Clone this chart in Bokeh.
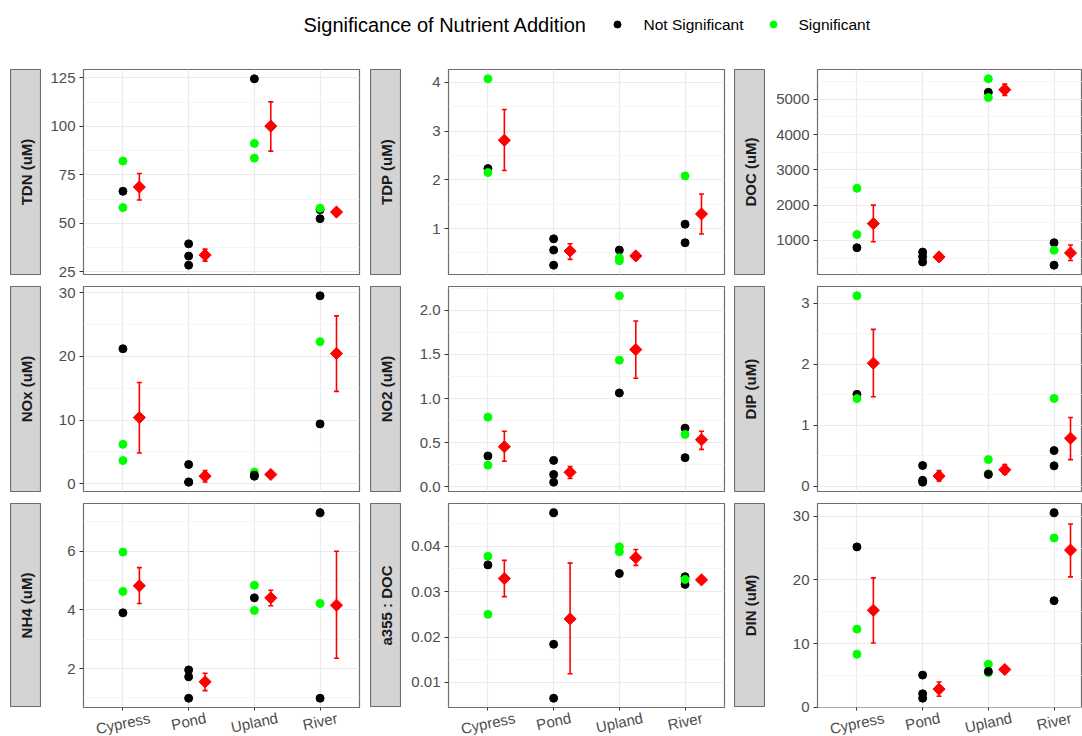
import math
from bokeh.plotting import figure
from bokeh.models import (ColumnDataSource, Range1d, FixedTicker, LinearAxis,
                          NumeralTickFormatter, Whisker, TeeHead, Label, Spacer,
                          CustomJSTickFormatter)
from bokeh.layouts import row, column
from bokeh.transform import dodge, factor_cmap
from bokeh.core.properties import value
from bokeh.embed import file_html
from bokeh.resources import INLINE

FONT = "Liberation Sans"

# ---------------- data ----------------
SITES = ["Cypress", "Pond", "Upland", "River"]
POINT_SITE = ["Cypress"] * 3 + ["Pond"] * 3 + ["Upland"] * 3 + ["River"] * 3
NS, SG = "Not Significant", "Significant"
SIG_LEVELS = [NS, SG]

TDN_VALS = [82.1, 66.5, 58.1, 39.4, 33.1, 28.4, 124.5, 91.2, 83.6, 57.0, 57.8, 52.4]
TDN_SIG = [SG, NS, SG, NS, NS, NS, NS, SG, SG, NS, SG, NS]
TDN_MEAN = [68.7, 33.6, 100.1, 55.8]
TDN_LO = [62.0, 30.5, 87.2, 54.2]
TDN_HI = [75.7, 36.7, 112.6, 57.4]

TDP_VALS = [4.07, 2.23, 2.15, 0.79, 0.56, 0.25, 0.56, 0.40, 0.34, 2.08, 1.09, 0.71]
TDP_SIG = [SG, NS, SG, NS, NS, NS, NS, SG, SG, SG, NS, NS]
TDP_MEAN = [2.81, 0.54, 0.44, 1.30]
TDP_LO = [2.19, 0.37, 0.37, 0.89]
TDP_HI = [3.44, 0.69, 0.51, 1.71]

DOC_VALS = [2477, 1168, 794, 670, 540, 390, 5579, 5196, 5047, 935, 720, 299]
DOC_SIG = [SG, SG, NS, NS, NS, NS, SG, NS, SG, NS, SG, NS]
DOC_MEAN = [1477, 533, 5271, 645]
DOC_LO = [963, 452, 5110, 430]
DOC_HI = [2000, 614, 5430, 869]

NOX_VALS = [21.2, 6.2, 3.65, 3.03, 0.26, 0.30, 1.85, 1.20, 1.35, 29.5, 22.3, 9.4]
NOX_SIG = [NS, SG, SG, NS, NS, NS, SG, NS, NS, NS, SG, NS]
NOX_MEAN = [10.4, 1.2, 1.47, 20.45]
NOX_LO = [4.85, 0.28, 1.2, 14.5]
NOX_HI = [15.9, 2.1, 1.75, 26.35]

NO2_VALS = [0.79, 0.35, 0.245, 0.30, 0.14, 0.053, 2.165, 1.436, 1.064, 0.665, 0.594, 0.331]
NO2_SIG = [SG, NS, SG, NS, NS, NS, SG, SG, NS, NS, SG, NS]
NO2_MEAN = [0.455, 0.165, 1.556, 0.534]
NO2_LO = [0.29, 0.095, 1.23, 0.425]
NO2_HI = [0.63, 0.23, 1.88, 0.63]

DIP_VALS = [3.125, 1.51, 1.44, 0.343, 0.10, 0.07, 0.44, 0.21, 0.196, 1.443, 0.588, 0.338]
DIP_SIG = [SG, NS, SG, NS, NS, NS, SG, SG, NS, SG, NS, NS]
DIP_MEAN = [2.02, 0.17, 0.273, 0.79]
DIP_LO = [1.47, 0.09, 0.20, 0.44]
DIP_HI = [2.575, 0.26, 0.36, 1.13]

NH4_VALS = [5.97, 4.63, 3.90, 1.955, 1.72, 0.99, 4.84, 4.41, 3.98, 7.31, 4.22, 0.99]
NH4_SIG = [SG, SG, NS, NS, NS, NS, SG, NS, SG, NS, SG, NS]
NH4_MEAN = [4.82, 1.55, 4.41, 4.16]
NH4_LO = [4.22, 1.25, 4.14, 2.35]
NH4_HI = [5.44, 1.84, 4.67, 6.0]

A355_VALS = [0.0378, 0.0359, 0.0250, 0.0474, 0.0184, 0.0065, 0.0399, 0.0388, 0.0340, 0.0333, 0.0316, 0.0327]
A355_SIG = [SG, NS, SG, NS, NS, NS, SG, SG, NS, NS, NS, SG]
A355_MEAN = [0.0329, 0.0240, 0.0375, 0.0326]
A355_LO = [0.0289, 0.0119, 0.0358, 0.0321]
A355_HI = [0.0369, 0.0363, 0.0393, 0.0331]

DIN_VALS = [25.2, 12.27, 8.32, 5.04, 2.1, 1.4, 6.75, 5.4, 5.61, 30.57, 26.6, 16.74]
DIN_SIG = [NS, SG, SG, NS, NS, NS, SG, SG, NS, NS, SG, NS]
DIN_MEAN = [15.23, 2.83, 5.92, 24.7]
DIN_LO = [10.08, 1.7, 5.5, 20.48]
DIN_HI = [20.33, 3.95, 6.35, 28.8]

TDN_TICKS = [25, 50, 75, 100, 125]
TDP_TICKS = [1, 2, 3, 4]
DOC_TICKS = [1000, 2000, 3000, 4000, 5000]
NOX_TICKS = [0, 10, 20, 30]
NO2_TICKS = [0.0, 0.5, 1.0, 1.5, 2.0]
DIP_TICKS = [0, 1, 2, 3]
NH4_TICKS = [2, 4, 6]
A355_TICKS = [0.01, 0.02, 0.03, 0.04]
DIN_TICKS = [0, 10, 20, 30]

PANELS = [
    [("TDN (uM)", TDN_VALS, TDN_SIG, TDN_MEAN, TDN_LO, TDN_HI, TDN_TICKS, "0"),
     ("TDP (uM)", TDP_VALS, TDP_SIG, TDP_MEAN, TDP_LO, TDP_HI, TDP_TICKS, "0"),
     ("DOC (uM)", DOC_VALS, DOC_SIG, DOC_MEAN, DOC_LO, DOC_HI, DOC_TICKS, "0")],
    [("NOx (uM)", NOX_VALS, NOX_SIG, NOX_MEAN, NOX_LO, NOX_HI, NOX_TICKS, "0"),
     ("NO2 (uM)", NO2_VALS, NO2_SIG, NO2_MEAN, NO2_LO, NO2_HI, NO2_TICKS, "0.0"),
     ("DIP (uM)", DIP_VALS, DIP_SIG, DIP_MEAN, DIP_LO, DIP_HI, DIP_TICKS, "0")],
    [("NH4 (uM)", NH4_VALS, NH4_SIG, NH4_MEAN, NH4_LO, NH4_HI, NH4_TICKS, "0"),
     ("a355 : DOC", A355_VALS, A355_SIG, A355_MEAN, A355_LO, A355_HI, A355_TICKS, "0.00"),
     ("DIN (uM)", DIN_VALS, DIN_SIG, DIN_MEAN, DIN_LO, DIN_HI, DIN_TICKS, "0")],
]

# ---------------- style ----------------
SIG_COLORS = ["#000000", "#00FF00"]
RED = "#FF0000"
BORDER = "#6E6E6E"
STRIP_FILL = "#D4D4D4"
GRID_MAJOR = "#EBEBEB"
GRID_MINOR = "#F3F3F3"
TICK_TEXT = "#4D4D4D"

FRAME_W = [276, 276, 265]
MB_LEFT = [42, 47, 52]
MB_RIGHT = [11, 10, 0]
FRAME_H = [205, 205, 204]
STRIP_W = 31
UNIT_PX = 276 / 4.2
LABEL_SHIFT_PX = [26.9, 17.1, 23.2, 17.1]  # half rotated label widths
LABEL_ANGLE = 0.21


def make_strip(text, r):
    s = figure(frame_width=STRIP_W, frame_height=FRAME_H[r],
               x_range=Range1d(0, 1), y_range=Range1d(0, 1),
               x_axis_location=None, y_axis_location=None,
               toolbar_location=None, output_backend="svg",
               min_border_left=0, min_border_right=0, min_border_top=6,
               min_border_bottom=6 if r < 2 else 0,
               background_fill_color=STRIP_FILL, border_fill_color="white",
               outline_line_color=BORDER, outline_line_width=1.2)
    s.grid.visible = False
    s.add_layout(Label(x=0.5, y=0.5, text=text, angle=math.pi / 2,
                       text_align="center", text_baseline="middle",
                       text_font=FONT, text_font_size="15px",
                       text_font_style="bold", text_color="#1A1A1A"))
    return s


def make_panel(spec, c, r):
    name, vals, sig, mean, lo, hi, ticks, fmt = spec
    fw = FRAME_W[c]
    xr = Range1d(-0.6, -0.6 + fw / UNIT_PX)
    allv = list(vals) + list(lo) + list(hi)
    vmin, vmax = min(allv), max(allv)
    pad = 0.05 * (vmax - vmin)
    yr = Range1d(vmin - pad, vmax + pad)

    p = figure(frame_width=fw, frame_height=FRAME_H[r], x_range=xr, y_range=yr,
               x_axis_location=None, y_axis_location="left",
               toolbar_location=None, output_backend="svg",
               min_border_left=MB_LEFT[c], min_border_right=MB_RIGHT[c],
               min_border_top=6, min_border_bottom=6 if r < 2 else 0,
               background_fill_color="white", border_fill_color="white",
               outline_line_color=BORDER, outline_line_width=1.2)

    step = ticks[1] - ticks[0]
    minor = [ticks[0] - step / 2] + [t + step / 2 for t in ticks]
    yt = FixedTicker(ticks=ticks, minor_ticks=minor)
    ax = p.yaxis[0]
    ax.ticker = yt
    ax.formatter = NumeralTickFormatter(format=fmt)
    ax.axis_line_color = None
    ax.major_tick_line_color = "#333333"
    ax.major_tick_out = 4
    ax.major_tick_in = 0
    ax.minor_tick_line_color = None
    ax.major_label_standoff = 4
    ax.major_label_text_font = FONT
    ax.major_label_text_font_size = "15px"
    ax.major_label_text_color = TICK_TEXT

    p.ygrid.ticker = yt
    p.ygrid.grid_line_color = GRID_MAJOR
    p.ygrid.grid_line_width = 1.2
    p.ygrid.minor_grid_line_color = GRID_MINOR
    p.ygrid.minor_grid_line_width = 0.8
    p.xgrid.ticker = FixedTicker(ticks=list(range(len(SITES))))
    p.xgrid.grid_line_color = GRID_MAJOR
    p.xgrid.grid_line_width = 1.2

    pts = ColumnDataSource(dict(x=[SITES.index(s) for s in POINT_SITE], y=vals, sig=sig))
    summ = ColumnDataSource(dict(x=list(range(len(SITES))), mean=mean, lo=lo, hi=hi))

    p.add_layout(Whisker(source=summ, base=dodge("x", 0.25), upper="hi", lower="lo",
                         dimension="height", line_color=RED, line_width=1.6,
                         upper_head=TeeHead(size=5, line_color=RED, line_width=1.6),
                         lower_head=TeeHead(size=5, line_color=RED, line_width=1.6)))
    p.scatter(x="x", y="y", source=pts, size=8,
              color=factor_cmap("sig", SIG_COLORS, SIG_LEVELS))
    p.scatter(x=dodge("x", 0.25), y="mean", source=summ, marker="square",
              angle=math.pi / 4, size=8.6, color=RED)

    if r == 2:
        # labels sit on shifted major ticks (so that rotated labels are centred
        # under the categories); the visible tick marks are the minor ticks at
        # the category positions.
        label_ticks = [i + LABEL_SHIFT_PX[i] / UNIT_PX for i in range(len(SITES))]
        label_axis = LinearAxis(ticker=FixedTicker(ticks=label_ticks,
                                                   minor_ticks=list(range(len(SITES)))),
                                formatter=CustomJSTickFormatter(args=dict(names=SITES),
                                                                code="return names[Math.floor(tick)]"),
                                axis_line_color=None, major_tick_line_color=None,
                                major_tick_out=3, major_tick_in=0,
                                minor_tick_line_color="#333333", minor_tick_out=3,
                                minor_tick_in=0, minor_tick_line_width=1,
                                major_label_standoff=7,
                                major_label_orientation=LABEL_ANGLE,
                                major_label_text_font=FONT, major_label_text_font_size="15px",
                                major_label_text_color=TICK_TEXT)
        p.add_layout(label_axis, "below")
    return p


# ---------------- legend ----------------
leg = figure(frame_width=1082, frame_height=63, x_range=Range1d(0, 1082), y_range=Range1d(0, 63),
             x_axis_location=None, y_axis_location=None, toolbar_location=None,
             output_backend="svg", min_border=0, outline_line_color=None)
leg.grid.visible = False
leg.text(x=[303], y=[39], text=["Significance of Nutrient Addition"],
         text_font=value(FONT), text_font_size="20px", text_baseline="middle",
         text_color="#000000")
leg.scatter(x=[617, 773], y=[39, 39], color=SIG_COLORS, size=7)
leg.text(x=[643, 798], y=[39, 39], text=SIG_LEVELS, text_font=value(FONT),
         text_font_size="15.5px", text_baseline="middle", text_color="#000000")

rows = []
for r in range(3):
    kids = [Spacer(width=10, height=10)]
    for c in range(3):
        spec = PANELS[r][c]
        kids.append(make_strip(spec[0], r))
        kids.append(make_panel(spec, c, r))
    rows.append(row(*kids))

layout = column(leg, *rows)
open("out.html", "w").write(file_html(layout, INLINE))
